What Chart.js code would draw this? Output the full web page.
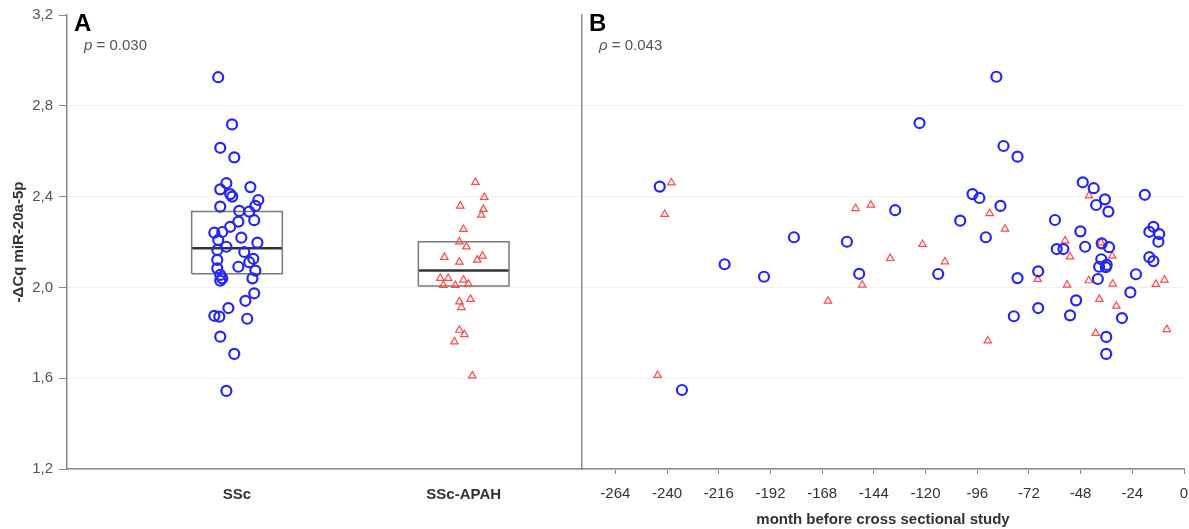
<!DOCTYPE html>
<html>
<head>
<meta charset="utf-8">
<script src="https://cdn.jsdelivr.net/npm/chart.js@4.4.1/dist/chart.umd.min.js"></script>
<style>
  body { margin:0; background:#fff; }
  #wrap { position:relative; width:1189px; height:529px; }
  #chartA { position:absolute; left:0; top:0; }
  #chartB { position:absolute; left:560px; top:0; }
</style>
</head>
<body>
<div id="wrap">
  <canvas id="chartA" width="582" height="529"></canvas>
  <canvas id="chartB" width="629" height="529"></canvas>
</div>
<script>
// panel A - groups
const groups = ['SSc', 'SSc-APAH'];

const sscA = [2.926,2.718,2.615,2.573,2.459,2.432,2.442,2.411,2.400,2.385,2.359,2.356,2.334,2.337,2.296,2.290,2.267,2.241,2.244,2.219,2.209,2.197,2.179,2.165,2.156,2.126,2.121,2.111,2.091,2.084,2.074,2.055,2.040,2.040,2.030,1.974,1.941,1.909,1.875,1.871,1.862,1.783,1.707,1.544];
const sscAJitter = [0.917,0.978,0.926,0.988,0.953,0.926,1.059,0.970,0.979,1.094,1.081,0.926,1.054,1.010,1.076,1.006,0.970,0.900,0.935,1.019,0.917,1.090,0.953,0.913,1.032,1.072,0.913,1.054,1.006,0.913,1.081,0.926,0.935,1.068,0.926,1.076,1.037,0.962,0.900,0.922,1.045,0.926,0.988,0.953];

const apahA = [2.463,2.397,2.359,2.344,2.319,2.256,2.201,2.179,2.133,2.138,2.121,2.112,2.040,2.040,2.010,2.010,2.033,2.015,1.948,1.937,1.912,1.812,1.793,1.761,1.611];
const apahAJitter = [2.052,2.091,1.985,2.087,2.078,1.999,1.981,2.012,1.915,2.083,2.060,1.981,1.897,1.932,1.910,1.963,1.999,2.021,2.030,1.981,1.990,1.981,2.003,1.959,2.038];

const boxQ1 = [2.060, 2.006];
const boxMedian = [2.172, 2.074];
const boxQ3 = [2.334, 2.201];

// panel B - months before study
const sscMonths = [-243.4,-181.1,-156.5,-213.3,-150.8,-195.0,-233.1,-87.1,-122.8,-83.8,-77.3,-47.0,-41.9,-98.2,-95.0,-18.2,-36.7,-40.8,-35.1,-85.2,-134.1,-103.9,-59.9,-92.0,-48.1,-14.2,-16.1,-11.5,-11.9,-59.1,-56.0,-45.9,-38.2,-34.8,-38.4,-35.9,-36.3,-39.4,-16.1,-14.2,-114.1,-77.3,-67.7,-40.0,-22.3,-24.9,-50.1,-67.7,-79.0,-52.9,-28.8,-36.1,-36.1];
const sscB = [2.444,2.221,2.201,2.102,2.060,2.047,1.548,2.928,2.724,2.623,2.576,2.463,2.437,2.411,2.394,2.408,2.388,2.363,2.334,2.359,2.340,2.294,2.297,2.221,2.247,2.267,2.245,2.235,2.201,2.169,2.169,2.179,2.194,2.177,2.124,2.099,2.089,2.091,2.133,2.116,2.059,2.041,2.071,2.037,2.058,1.978,1.943,1.909,1.873,1.877,1.865,1.782,1.707];

const apahMonths = [-238.0,-241.1,-152.5,-145.4,-149.4,-165.3,-244.4,-44.1,-90.2,-83.1,-121.4,-136.4,-111.0,-55.2,-52.9,-38.5,-33.3,-67.9,-54.3,-44.2,-33.1,-13.1,-9.1,-39.3,-31.4,-41.0,-8.0,-91.1];
const apahB = [2.461,2.322,2.348,2.363,2.011,1.940,1.613,2.404,2.326,2.257,2.190,2.128,2.113,2.206,2.135,2.197,2.138,2.036,2.011,2.030,2.015,2.014,2.033,1.948,1.918,1.798,1.815,1.765];

const monthTicks = [-264,-240,-216,-192,-168,-144,-120,-96,-72,-48,-24,0];

const FONT = "'Liberation Sans', Arial, sans-serif";
const BLUE = '#2426f5';
const RED = '#ff4a4a';
const AXIS = '#8a8a8a';
const GRIDC = '#f0f0f0';
const BOX_HALF = 0.2;

function pts(xs, ys){
  return xs.map(function(x, i){ return {x: x, y: ys[i]}; });
}

function boxOutline(i){
  var c = i + 1;
  return {
    data: [
      {x: c - BOX_HALF, y: boxQ1[i]}, {x: c + BOX_HALF, y: boxQ1[i]},
      {x: c + BOX_HALF, y: boxQ3[i]}, {x: c - BOX_HALF, y: boxQ3[i]},
      {x: c - BOX_HALF, y: boxQ1[i]}
    ],
    showLine: true, pointRadius: 0, borderColor: '#7a7a7a', borderWidth: 1.5, fill: false
  };
}

function medianLine(i){
  var c = i + 1;
  return {
    data: [{x: c - BOX_HALF, y: boxMedian[i]}, {x: c + BOX_HALF, y: boxMedian[i]}],
    showLine: true, pointRadius: 0, borderColor: '#333', borderWidth: 2.5, fill: false
  };
}

var circleStyle = { pointStyle: 'circle', pointRadius: 5, borderColor: BLUE, borderWidth: 2.2, backgroundColor: 'rgba(0,0,0,0)' };
var triStyle = { pointStyle: 'triangle', pointRadius: 4.3, borderColor: RED, borderWidth: 1.2, backgroundColor: 'rgba(0,0,0,0)' };

function yGrid(ctx){
  return Math.abs(ctx.tick.value - 3.2) < 1e-6 ? 'rgba(0,0,0,0)' : GRIDC;
}

// panel letters and rho text
function labelPlugin(letter, pre, rest){
  return {
    id: 'panelLabel',
    afterDraw: function(chart){
      var ctx = chart.ctx;
      var left = chart.chartArea.left;
      ctx.save();
      ctx.fillStyle = '#000';
      ctx.font = 'bold 24px ' + FONT;
      ctx.textBaseline = 'alphabetic';
      ctx.fillText(letter, left + 7, 31);
      ctx.fillStyle = '#555';
      ctx.font = 'italic 15px ' + FONT;
      ctx.fillText(pre, left + 17, 50);
      var w = ctx.measureText(pre).width;
      ctx.font = '15px ' + FONT;
      ctx.fillText(rest, left + 17 + w, 50);
      ctx.restore();
    }
  };
}

new Chart(document.getElementById('chartA'), {
  type: 'scatter',
  data: {
    datasets: [
      Object.assign({ data: pts(sscAJitter, sscA) }, circleStyle),
      Object.assign({ data: pts(apahAJitter, apahA) }, triStyle),
      boxOutline(0), medianLine(0), boxOutline(1), medianLine(1)
    ]
  },
  options: {
    responsive: false, animation: false, devicePixelRatio: 1,
    layout: { autoPadding: false, padding: { top: 15, left: 0, right: 0, bottom: 0 } },
    plugins: { legend: { display: false }, tooltip: { enabled: false } },
    scales: {
      x: {
        type: 'linear', min: 0.25, max: 2.522,
        afterBuildTicks: function(s){ s.ticks = groups.map(function(g, i){ return {value: i + 1}; }); },
        afterFit: function(s){ s.height = 60; },
        ticks: {
          callback: function(v){ return groups[Math.round(v) - 1]; },
          font: { family: FONT, size: 15, weight: 'bold' }, color: '#333', padding: 17, maxRotation: 0
        },
        grid: { display: false, drawTicks: false },
        border: { color: AXIS, width: 1.5 }
      },
      y: {
        min: 1.2, max: 3.2,
        afterFit: function(s){ s.width = 67; },
        ticks: {
          stepSize: 0.4,
          callback: function(v){ return v.toFixed(1).replace('.', ','); },
          font: { family: FONT, size: 15 }, color: '#555', padding: 6
        },
        grid: { color: yGrid, tickColor: AXIS, tickLength: 8, lineWidth: 1 },
        border: { color: AXIS, width: 1.5 },
        title: {
          display: true, text: '-ΔCq miR-20a-5p',
          font: { family: FONT, size: 15, weight: 'bold' }, color: '#333',
          padding: { top: 10, bottom: 0 }
        }
      }
    }
  },
  plugins: [labelPlugin('A', 'p', ' = 0.030')]
});

new Chart(document.getElementById('chartB'), {
  type: 'scatter',
  data: {
    datasets: [
      Object.assign({ data: pts(sscMonths, sscB) }, circleStyle),
      Object.assign({ data: pts(apahMonths, apahB) }, triStyle)
    ]
  },
  options: {
    responsive: false, animation: false, devicePixelRatio: 1,
    layout: { autoPadding: false, padding: { top: 15, left: 0, right: 5, bottom: 0 } },
    plugins: { legend: { display: false }, tooltip: { enabled: false } },
    scales: {
      x: {
        type: 'linear', min: -279.5, max: 0,
        afterBuildTicks: function(s){ s.ticks = monthTicks.map(function(m){ return {value: m}; }); },
        afterFit: function(s){ s.height = 60; s.paddingRight = 0; s.paddingLeft = 0; },
        ticks: {
          callback: function(v){ return String(v); },
          font: { family: FONT, size: 15 }, color: '#333', padding: 11, maxRotation: 0, autoSkip: false
        },
        grid: { drawOnChartArea: false, tickColor: AXIS, tickLength: 5 },
        border: { color: AXIS, width: 1.5 },
        title: {
          display: true, text: 'month before cross sectional study',
          font: { family: FONT, size: 15, weight: 'bold' }, color: '#333',
          padding: { top: 0, bottom: 0 }
        }
      },
      y: {
        min: 1.2, max: 3.2,
        afterFit: function(s){ s.width = 22; },
        ticks: { stepSize: 0.4, display: false },
        grid: { color: yGrid, drawTicks: false },
        border: { color: AXIS, width: 1.5 }
      }
    }
  },
  plugins: [labelPlugin('B', 'ρ', ' = 0.043')]
});
</script>
</body>
</html>
